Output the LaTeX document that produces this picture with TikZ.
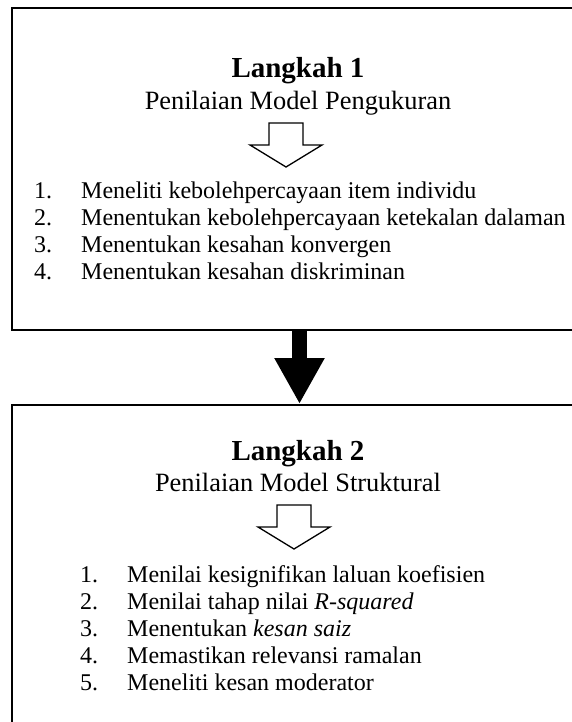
\documentclass[tikz,border=0pt]{standalone}
\usepackage{fontspec}
\setmainfont{Liberation Serif}
\usetikzlibrary{arrows.meta}
\tikzset{
  hollowarrow/.pic={
    \draw[line width=1.3pt, line join=miter, fill=white]
      (-17,0) -- (17,0) -- (17,22) -- (36,22) -- (0,44) -- (-36,22) -- (-17,22) -- cycle;
  }
}
\begin{document}
\begin{tikzpicture}[x=1pt, y=-1pt,
  panel/.style={draw=black, line width=2pt, fill=white, inner sep=0pt, anchor=north west},
  heading/.style={font=\fontsize{29}{33}\selectfont\bfseries, anchor=base, inner sep=0pt},
  subheading/.style={font=\fontsize{26.4}{30}\selectfont, anchor=base, inner sep=0pt},
  listitem/.style={font=\fontsize{24}{27}\selectfont, anchor=base west, inner sep=0pt},
  bigarrow/.style={line width=15pt, -{Triangle[width=47pt, length=46pt]}}
]
\useasboundingbox (0,0) rectangle (572,722);
\clip (0,0) rectangle (572,722);

% the two stage panels (their right and lower edges run off the page)
\node[panel, minimum width=580pt, minimum height=322pt] (box1) at (11,7) {};
\node[panel, minimum width=580pt, minimum height=330pt] (box2) at (11,404) {};

% stage 1
\node[heading] (title1) at (298,78) {Langkah 1};
\node[subheading] (sub1) at (298,110) {Penilaian Model Pengukuran};
\pic at (286,123) {hollowarrow};
\node[listitem] (n11) at (34,198) {1.};
\node[listitem] (t11) at (81,198) {Meneliti kebolehpercayaan item individu};
\node[listitem] (n12) at (34,225) {2.};
\node[listitem] (t12) at (81,225) {Menentukan kebolehpercayaan ketekalan dalaman};
\node[listitem] (n13) at (34,252) {3.};
\node[listitem] (t13) at (81,252) {Menentukan kesahan konvergen};
\node[listitem] (n14) at (34,279) {4.};
\node[listitem] (t14) at (81,279) {Menentukan kesahan diskriminan};

% stage 2
\node[heading] (title2) at (298,460) {Langkah 2};
\node[subheading] (sub2) at (298,491) {Penilaian Model Struktural};
\pic at (294,505) {hollowarrow};
\node[listitem] (n21) at (80,582) {1.};
\node[listitem] (t21) at (127,582) {Menilai kesignifikan laluan koefisien};
\node[listitem] (n22) at (80,609) {2.};
\node[listitem] (t22) at (127,609) {Menilai tahap nilai \textit{R-squared}};
\node[listitem] (n23) at (80,636) {3.};
\node[listitem] (t23) at (127,636) {Menentukan \textit{kesan saiz}};
\node[listitem] (n24) at (80,663) {4.};
\node[listitem] (t24) at (127,663) {Memastikan relevansi ramalan};
\node[listitem] (n25) at (80,690) {5.};
\node[listitem] (t25) at (127,690) {Meneliti kesan moderator};

% connector between the stages
\coordinate (axis) at (299.5,0);
\draw[bigarrow] (box1.south -| axis) -- (box2.north -| axis);
\end{tikzpicture}
\end{document}
